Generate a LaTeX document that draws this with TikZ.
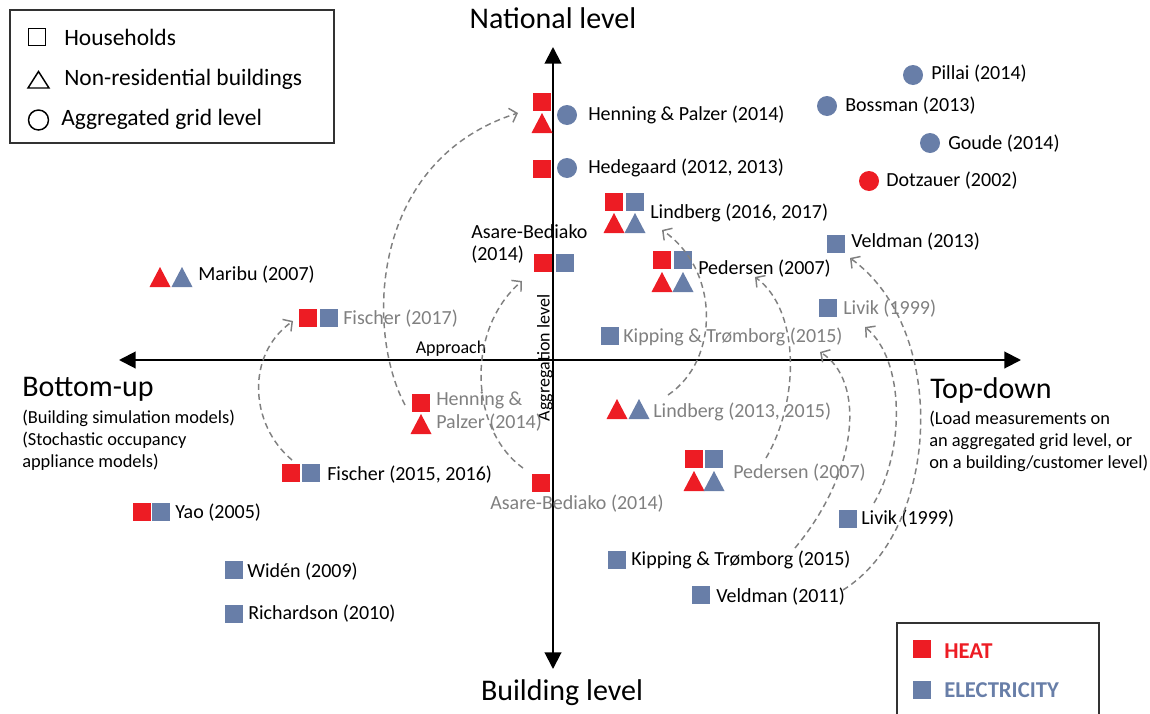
\documentclass[tikz,border=0pt]{standalone}
\usepackage{fontspec}
\setmainfont{Carlito}
\usetikzlibrary{arrows.meta}
\definecolor{heat}{RGB}{237,28,36}
\definecolor{elec}{RGB}{104,126,168}
\definecolor{prior}{RGB}{128,128,128}
\definecolor{frame}{RGB}{50,50,50}

\begin{document}
\begin{tikzpicture}[x=0.75pt,y=-0.75pt,
  sqr/.style={rectangle, inner sep=0pt, minimum size=14pt},
  dot/.style={circle, inner sep=0pt, minimum size=15pt},
  tri/.pic={\fill[pic actions] (-10.5,10) -- (10.5,10) -- (0,-10) -- cycle;},
  lbl/.style={anchor=west, inner sep=0pt, font=\fontsize{15}{18}\selectfont},
  old/.style={lbl, text=prior},
  big/.style={inner sep=0pt, font=\fontsize{22.5}{27}\selectfont},
  note/.style={anchor=west, inner sep=0pt, align=left, font=\fontsize{13.8}{16.5}\selectfont},
  keytext/.style={anchor=west, inner sep=0pt, font=\fontsize{17.6}{21}\selectfont},
  axis/.style={line width=1.5pt, {Triangle[length=12.5pt,width=12.5pt]}-{Triangle[length=12.5pt,width=12.5pt]}},
  move/.style={prior, line width=1.1pt, dash pattern=on 4.5pt off 3pt, -{Straight Barb[length=5pt,width=11pt]}},
]
\useasboundingbox (0,0) rectangle (1150,714);

% ---------- axes ----------
\coordinate (ytop) at (553,47);
\coordinate (ybot) at (553,669);
\coordinate (xl) at (119,360);
\coordinate (xr) at (1021,360);
\draw[axis] (ybot) -- (ytop);
\draw[axis] (xl) -- (xr);

\node[big] (nat) at (553,18) {National level};
\node[big] (bld) at (562,693) {Building level};
\node[big, anchor=west] (bu) at (22,389) {Bottom-up};
\node[note] (bunote) at (22,440) {(Building simulation models)\\(Stochastic occupancy\\appliance models)};
\node[big, anchor=west] (td) at (930,390) {Top-down};
\node[note] (tdnote) at (929,441) {(Load measurements on\\an aggregated grid level, or\\on a building/customer level)};
\node[inner sep=0pt, font=\fontsize{13.5}{16}\selectfont] (appr) at (451,349) {Approach};
\node[inner sep=0pt, rotate=90, font=\fontsize{13.5}{16}\selectfont] (aggr) at (545,358) {Aggregation level};

% ---------- shape key ----------
\draw[frame, line width=1.1pt] (10,10) rectangle (334,143);
\node[draw, line width=1.1pt, rectangle, inner sep=0pt, minimum size=12.8pt] (k-sq) at (37,37) {};
\draw[line width=1.1pt, line join=miter] (28,88) -- (49,88) -- (38.5,71.5) -- cycle;
\node[draw, line width=1.1pt, circle, inner sep=0pt, minimum size=15pt] (k-ci) at (38.5,120) {};
\node[keytext] (k-t1) at (64,37) {Households};
\node[keytext] (k-t2) at (64,79) {Non-residential buildings};
\node[keytext] (k-t3) at (61,119) {Aggregated grid level};

% ---------- colour key ----------
\draw[frame, line width=1.1pt] (897,723) -- (897,623) -- (1099,623) -- (1099,723);
\node[sqr, fill=heat] (k-heat) at (922,649) {};
\node[sqr, fill=elec] (k-elec) at (922,690) {};
\node[anchor=west, inner sep=0pt, text=heat, font=\fontsize{17}{20}\bfseries] (k-t4) at (944,651) {HEAT};
\node[anchor=west, inner sep=0pt, text=elec, font=\fontsize{17}{20}\bfseries] (k-t5) at (944,690) {ELECTRICITY};

% ---------- studies ----------
% Henning & Palzer (2014), national
\node[sqr, fill=heat] (hp-h) at (542,102) {};
\pic[fill=heat] at (542,123) {tri};
\node[dot, fill=elec] (hp-e) at (567,115) {};
\node[lbl] (hp-t) at (588,115) {Henning \& Palzer (2014)};
% Hedegaard
\node[sqr, fill=heat] (hd-h) at (542,169) {};
\node[dot, fill=elec] (hd-e) at (567,168) {};
\node[lbl] (hd-t) at (588,168) {Hedegaard (2012, 2013)};
% Lindberg (2016, 2017)
\node[sqr, fill=heat] (lb-h) at (614,202) {};
\node[sqr, fill=elec] (lb-e) at (635,202) {};
\pic[fill=heat] at (614,223) {tri};
\pic[fill=elec] at (635,223) {tri};
\node[lbl] (lb-t) at (650,213) {Lindberg (2016, 2017)};
% Asare-Bediako (2014), national
\node[lbl, align=left, font=\fontsize{15}{16.5}\selectfont] (ab-t) at (471,244) {Asare-Bediako\\(2014)};
\node[sqr, fill=heat] (ab-h) at (543,263) {};
\node[sqr, fill=elec] (ab-e) at (565,263) {};
% Pedersen (2007), upper
\node[sqr, fill=heat] (pd-h) at (662,260) {};
\node[sqr, fill=elec] (pd-e) at (683,260) {};
\pic[fill=heat] at (662,282) {tri};
\pic[fill=elec] at (683,282) {tri};
\node[lbl] (pd-t) at (698,269) {Pedersen (2007)};
% top-down, grid level
\node[dot, fill=elec] (pi-e) at (913,75) {};
\node[lbl] (pi-t) at (931,74) {Pillai (2014)};
\node[dot, fill=elec] (bo-e) at (827,106) {};
\node[lbl] (bo-t) at (845,106) {Bossman (2013)};
\node[dot, fill=elec] (go-e) at (930,143) {};
\node[lbl] (go-t) at (948,144) {Goude (2014)};
\node[dot, fill=heat] (dz-h) at (869,181) {};
\node[lbl] (dz-t) at (886,181) {Dotzauer (2002)};
\node[sqr, fill=elec] (v13-e) at (836,244) {};
\node[lbl] (v13-t) at (851,242) {Veldman (2013)};
\node[sqr, fill=elec] (lv-e) at (828,308) {};
\node[old] (lv-t) at (843,309) {Livik (1999)};
% Maribu
\pic[fill=heat] at (160,277) {tri};
\pic[fill=elec] at (182,277) {tri};
\node[lbl] (mb-t) at (198,275) {Maribu (2007)};
% Fischer (2017)
\node[sqr, fill=heat] (f17-h) at (308,318) {};
\node[sqr, fill=elec] (f17-e) at (329,318) {};
\node[old] (f17-t) at (343,319) {Fischer (2017)};
% Kipping & Trømborg, upper
\node[sqr, fill=elec] (kt-e) at (610,336) {};
\node[old] (kt-t) at (623,337) {Kipping \& Trømborg (2015)};
% Lindberg (2013, 2015)
\pic[fill=heat] at (617,409) {tri};
\pic[fill=elec] at (639,409) {tri};
\node[old] (lb2-t) at (653,412) {Lindberg (2013, 2015)};
% Pedersen (2007), lower
\node[sqr, fill=heat] (pd2-h) at (694,459) {};
\node[sqr, fill=elec] (pd2-e) at (714,459) {};
\pic[fill=heat] at (694,481) {tri};
\pic[fill=elec] at (714,481) {tri};
\node[old] (pd2-t) at (733,473) {Pedersen (2007)};
% Henning & Palzer (2014), building
\node[sqr, fill=heat] (hp2-h) at (421,403) {};
\pic[fill=heat] at (421,424) {tri};
\node[old, align=left, font=\fontsize{15}{17.25}\selectfont] (hp2-t) at (436,411.5) {Henning \&\\Palzer (2014)};
% Asare-Bediako (2014), building
\node[sqr, fill=heat] (ab2-h) at (541,483) {};
\node[old] (ab2-t) at (490,504) {Asare-Bediako (2014)};
% Fischer (2015, 2016)
\node[sqr, fill=heat] (f15-h) at (291,473) {};
\node[sqr, fill=elec] (f15-e) at (311,473) {};
\node[lbl] (f15-t) at (327,475) {Fischer (2015, 2016)};
% Yao, Widén, Richardson
\node[sqr, fill=heat] (ya-h) at (142,512) {};
\node[sqr, fill=elec] (ya-e) at (161,512) {};
\node[lbl] (ya-t) at (175,513) {Yao (2005)};
\node[sqr, fill=elec] (wi-e) at (234,570) {};
\node[lbl] (wi-t) at (247,572) {Widén (2009)};
\node[sqr, fill=elec] (ri-e) at (234,614) {};
\node[lbl] (ri-t) at (248,614) {Richardson (2010)};
% Kipping & Trømborg, lower
\node[sqr, fill=elec] (kt2-e) at (617,560) {};
\node[lbl] (kt2-t) at (631,560) {Kipping \& Trømborg (2015)};
% Veldman (2011)
\node[sqr, fill=elec] (v11-e) at (701,595) {};
\node[lbl] (v11-t) at (716,597) {Veldman (2011)};
% Livik (1999), lower
\node[sqr, fill=elec] (lv2-e) at (848,519) {};
\node[lbl] (lv2-t) at (861,519) {Livik (1999)};

% ---------- shifts between levels ----------
\coordinate (m1a) at (292,460);  \coordinate (m1b) at (293,321);
\coordinate (m2a) at (405,405);  \coordinate (m2b) at (518,113);
\coordinate (m3a) at (523,468);  \coordinate (m3b) at (522,281);
\coordinate (m4a) at (668,395);  \coordinate (m4b) at (662,230);
\coordinate (m5a) at (766,458);  \coordinate (m5b) at (755,277);
\coordinate (m6a) at (795,548);  \coordinate (m6b) at (820,352);
\coordinate (m7a) at (874,503);  \coordinate (m7b) at (865,327);
\coordinate (m8a) at (843,590);  \coordinate (m8b) at (850,258);
\draw[move] (m1a) .. controls (250,425) and (245,355) .. (m1b);
\draw[move] (m2a) .. controls (365,330) and (370,160) .. (m2b);
\draw[move] (m3a) .. controls (470,430) and (465,330) .. (m3b);
\draw[move] (m4a) .. controls (720,360) and (720,270) .. (m4b);
\draw[move] (m5a) .. controls (800,400) and (800,310) .. (m5b);
\draw[move] (m6a) .. controls (860,470) and (865,380) .. (m6b);
\draw[move] (m7a) .. controls (905,450) and (905,360) .. (m7b);
\draw[move] (m8a) .. controls (940,530) and (950,330) .. (m8b);
\end{tikzpicture}
\end{document}
